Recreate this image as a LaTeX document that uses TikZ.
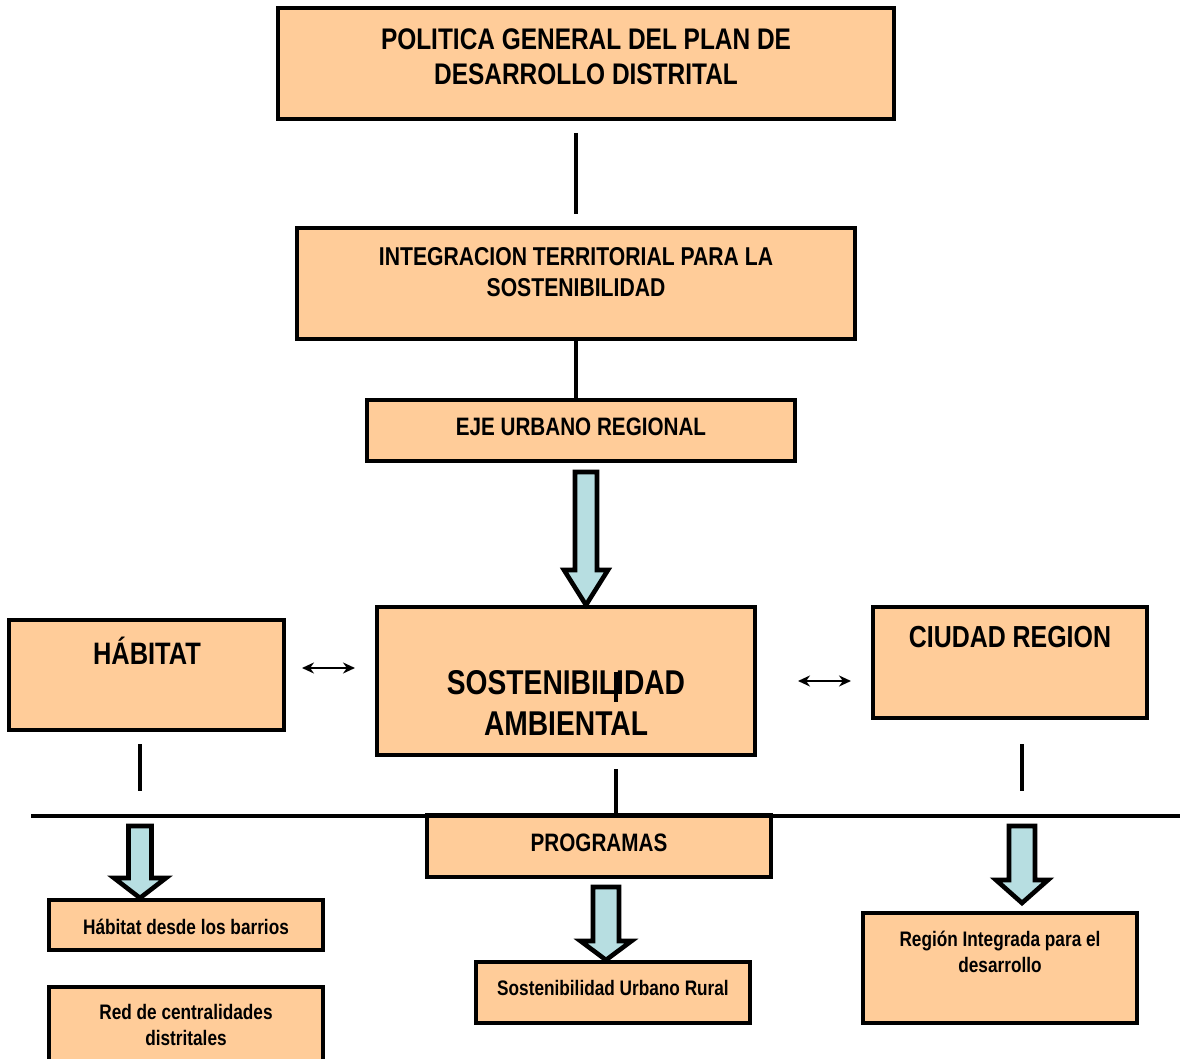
\documentclass[tikz,border=0pt]{standalone}
\usepackage{fontspec}
\setmainfont{Liberation Sans}[FakeStretch=0.82]
\usetikzlibrary{calc,arrows.meta}

\definecolor{peach}{RGB}{255,204,153}
\definecolor{paleblue}{RGB}{183,222,225}

% fat hollow arrow: from, to, shaft half width, head half width, head length
\newcommand{\fatarrow}[5]{%
  \draw[fat] let \p1=(#1), \p2=(#2) in
    (\x2-#3,\y1) -- (\x2+#3,\y1) -- (\x2+#3,\y2+#5) -- (\x2+#4,\y2+#5)
    -- (\x2,\y2) -- (\x2-#4,\y2+#5) -- (\x2-#3,\y2+#5) -- cycle;}

\begin{document}
\begin{tikzpicture}[x=0.5pt,y=-0.5pt,
  box/.style={draw, line width=2pt, fill=peach, inner sep=0pt},
  txt/.style={align=center, font=\bfseries, inner sep=0pt},
  line/.style={line width=2pt},
  fat/.style={draw, line width=2.3pt, fill=paleblue, line join=miter},
  dbl/.style={line width=1pt, {Stealth[length=6pt,width=5.5pt]}-{Stealth[length=6pt,width=5.5pt]}}]

  \useasboundingbox (0,0) rectangle (1180,1059);
  \clip (0,0) rectangle (1180,1059);

  % boxes
  \node[box, minimum width=308pt, minimum height=55.5pt] (top) at (586,63.5) {};
  \node[box, minimum width=279pt, minimum height=55.5pt] (integ) at (576,283.5) {};
  \node[box, minimum width=214pt, minimum height=30.5pt] (eje) at (581,430.5) {};
  \node[box, minimum width=189pt, minimum height=74pt] (sost) at (566,681) {};
  \node[box, minimum width=137.5pt, minimum height=55pt] (hab) at (146.5,675) {};
  \node[box, minimum width=137pt, minimum height=55.5pt] (ciudad) at (1010,662.5) {};
  \node[box, minimum width=172pt, minimum height=31pt] (prog) at (599,846) {};
  \node[box, minimum width=137pt, minimum height=25pt] (barrios) at (186,925) {};
  \node[box, minimum width=137pt, minimum height=42pt] (red) at (186,1029) {};
  \node[box, minimum width=137pt, minimum height=30.5pt] (urbrur) at (613,992.5) {};
  \node[box, minimum width=137pt, minimum height=55pt] (region) at (1000,968) {};

  % texts
  \node[txt, font=\fontsize{14.9}{17.5}\selectfont\bfseries] (ttop) at (586,57)
    {POLITICA GENERAL DEL PLAN DE\\DESARROLLO DISTRITAL};
  \node[txt, font=\fontsize{12.9}{15.5}\selectfont\bfseries] (tinteg) at (576,272)
    {INTEGRACION TERRITORIAL PARA LA\\SOSTENIBILIDAD};
  \node[txt, font=\fontsize{12.6}{15}\selectfont\bfseries] (teje) at (581,427) {EJE URBANO REGIONAL};
  \node[txt, font=\fontsize{17.2}{20.5}\selectfont\bfseries] (tsost) at (566,703)
    {SOSTENIBILIDAD\\AMBIENTAL};
  \node[txt, font=\fontsize{15.5}{17}\selectfont\bfseries] (thab) at (147,651) {HÁBITAT};
  \node[txt, font=\fontsize{15.2}{17}\selectfont\bfseries] (tciudad) at (1010,637) {CIUDAD REGION};
  \node[txt, font=\fontsize{12.6}{15}\selectfont\bfseries] (tprog) at (599,843) {PROGRAMAS};
  \node[txt, font=\fontsize{10.5}{13}\selectfont\bfseries] (tbarrios) at (186,927) {Hábitat desde los barrios};
  \node[txt, font=\fontsize{10.5}{13}\selectfont\bfseries] (tred) at (186,1025)
    {Red de centralidades\\distritales};
  \node[txt, font=\fontsize{10.5}{13}\selectfont\bfseries] (turbrur) at (613,988) {Sostenibilidad Urbano Rural};
  \node[txt, font=\fontsize{10.5}{13}\selectfont\bfseries] (tregion) at (1000,952)
    {Región Integrada para el\\desarrollo};

  % helper coordinates
  \coordinate (barL) at (31,816);
  \coordinate (barR) at (1180,816);
  \coordinate (vhab) at (140,0);
  \coordinate (vsost) at (616,0);
  \coordinate (vciu) at (1022,0);
  \coordinate (d1) at (0,668);
  \coordinate (d2) at (0,681);

  % connectors
  \draw[line, shorten <=6pt, shorten >=6pt] (top.south -| integ.north) -- (integ.north);
  \draw[line] (integ.south -| eje.north) ++(-5,0) -- (integ.south |- eje.north);
  \draw[line] (barL) -- (barR);
  \draw[line, shorten <=6pt, shorten >=12.5pt] (hab.south -| vhab) -- (barL -| vhab);
  \draw[line, shorten <=6pt] (sost.south -| vsost) -- (barL -| vsost);
  \draw[line, shorten <=12pt, shorten >=12.5pt] (ciudad.south -| vciu) -- (barL -| vciu);
  \draw[line] (616,672) -- (616,702);
  \draw[dbl, shorten <=8pt, shorten >=10pt] (hab.east |- d1) -- (sost.west |- d1);
  \draw[dbl, shorten <=20.5pt, shorten >=10pt] (sost.east |- d2) -- (ciudad.west |- d2);

  % fat arrows
  \coordinate (a1) at (586,472);
  \coordinate (a2) at (140,826);
  \coordinate (a3) at (606,887);
  \coordinate (a4) at (1022,826);
  \fatarrow{a1}{a1 |- sost.north}{5.5pt}{11pt}{17.5pt}
  \fatarrow{a2}{a2 |- barrios.north}{5.75pt}{13pt}{10pt}
  \fatarrow{a3}{a3 |- urbrur.north}{6.5pt}{12.75pt}{9.5pt}
  \fatarrow{a4}{1022,903}{6.5pt}{13pt}{11.5pt}

\end{tikzpicture}
\end{document}
